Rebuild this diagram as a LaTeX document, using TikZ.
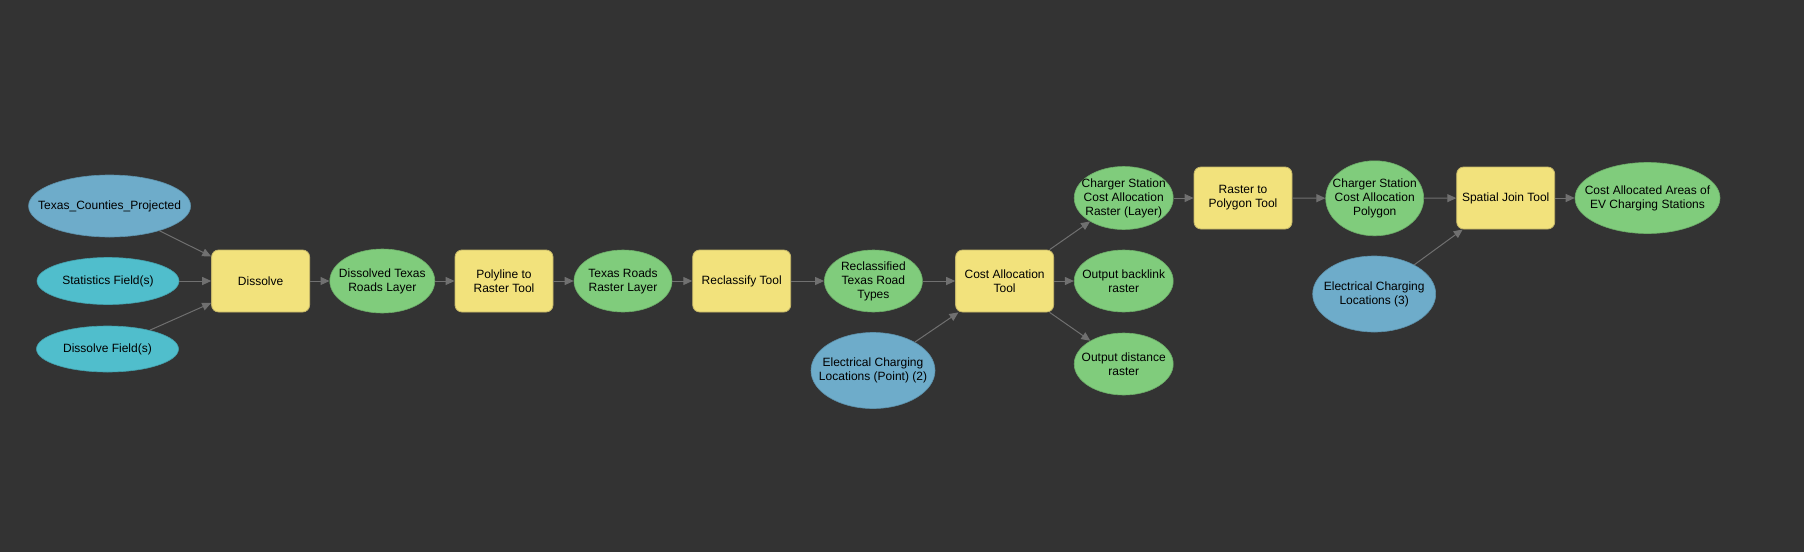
\documentclass[tikz,border=0pt]{standalone}
\usepackage{fontspec}
\setmainfont{Liberation Sans}
\usetikzlibrary{shapes.geometric,arrows.meta}
\definecolor{bgdark}{RGB}{51,51,51}
\definecolor{tooly}{RGB}{242,226,124}
\definecolor{tooledge}{RGB}{196,182,104}
\definecolor{outg}{RGB}{128,204,124}
\definecolor{inb}{RGB}{110,172,202}
\definecolor{parc}{RGB}{80,190,204}
\definecolor{flowgray}{RGB}{112,112,112}
\tikzset{
  tool/.style={rectangle, rounded corners=7pt, draw=tooledge, line width=0.8pt, fill=tooly,
    minimum width=98pt, minimum height=62pt, align=center, inner sep=0pt},
  data/.style={ellipse, draw=#1!85!black, line width=0.6pt, fill=#1, inner sep=0pt},
  txt/.style={align=center, inner sep=0pt},
  flow/.style={draw=flowgray, line width=1pt, -{Triangle[length=9pt,width=8pt]}}
}
\begin{document}
\begin{tikzpicture}[x=1pt,y=-1pt,font=\fontsize{12}{14}\selectfont]
  %%%%% START %%%%%
  \fill[bgdark] (0,0) rectangle (1804,552);

  \node[data=inb, minimum width=162pt, minimum height=62pt, label={[txt]center:Texas\_Counties\_Projected}] (tcp) at (109.6,206) {};
  \node[data=parc, minimum width=142pt, minimum height=47pt, label={[txt]center:Statistics Field(s)}] (statf) at (108,281) {};
  \node[data=parc, minimum width=142pt, minimum height=46pt, label={[txt]center:Dissolve Field(s)}] (dissf) at (107.5,349) {};

  \node[tool] (dissolve) at (260.6,281) {Dissolve};
  \node[data=outg, minimum width=105pt, minimum height=64pt, label={[txt]center:{Dissolved Texas\\Roads Layer}}] (dissroads) at (382.3,281) {};
  \node[tool] (polyline) at (504,281) {Polyline to\\Raster Tool};
  \node[data=outg, minimum width=98pt, minimum height=62pt, label={[txt]center:{Texas Roads\\Raster Layer}}] (rasterlayer) at (623,281) {};
  \node[tool] (reclass) at (741.7,281) {Reclassify Tool};
  \node[data=outg, minimum width=98pt, minimum height=62pt, label={[txt]center:{Reclassified\\Texas Road\\Types}}] (reclassified) at (873.4,281) {};
  \node[tool] (costalloc) at (1004.6,281) {Cost Allocation\\Tool};
  \node[data=inb, minimum width=124pt, minimum height=76pt, label={[txt]center:{Electrical Charging\\Locations (Point) (2)}}] (evpoint) at (873,370.5) {};

  \node[data=outg, minimum width=99pt, minimum height=63pt, label={[txt]center:{Charger Station\\Cost Allocation\\Raster (Layer)}}] (allocraster) at (1123.7,198) {};
  \node[data=outg, minimum width=99pt, minimum height=62pt, label={[txt]center:{Output backlink\\raster}}] (backlink) at (1123.7,281) {};
  \node[data=outg, minimum width=99pt, minimum height=62pt, label={[txt]center:{Output distance\\raster}}] (distance) at (1123.7,364) {};

  \node[tool] (topoly) at (1243,198) {Raster to\\Polygon Tool};
  \node[data=outg, minimum width=98pt, minimum height=75pt, label={[txt]center:{Charger Station\\Cost Allocation\\Polygon}}] (allocpoly) at (1374.7,198.3) {};
  \node[tool] (spjoin) at (1505.7,198) {Spatial Join Tool};
  \node[data=inb, minimum width=123pt, minimum height=76pt, label={[txt]center:{Electrical Charging\\Locations (3)}}] (evloc3) at (1374.2,294) {};
  \node[data=outg, minimum width=145pt, minimum height=71pt, label={[txt]center:{Cost Allocated Areas of\\EV Charging Stations}}] (areas) at (1647.5,198) {};

  \draw[flow] (tcp) -- (dissolve);
  \draw[flow] (statf) -- (dissolve);
  \draw[flow] (dissf) -- (dissolve);
  \draw[flow] (dissolve) -- (dissroads);
  \draw[flow] (dissroads) -- (polyline);
  \draw[flow] (polyline) -- (rasterlayer);
  \draw[flow] (rasterlayer) -- (reclass);
  \draw[flow] (reclass) -- (reclassified);
  \draw[flow] (reclassified) -- (costalloc);
  \draw[flow] (evpoint) -- (costalloc);
  \draw[flow] (costalloc) -- (allocraster);
  \draw[flow] (costalloc) -- (backlink);
  \draw[flow] (costalloc) -- (distance);
  \draw[flow] (allocraster) -- (topoly);
  \draw[flow] (topoly) -- (allocpoly);
  \draw[flow] (allocpoly) -- (spjoin);
  \draw[flow] (evloc3) -- (spjoin);
  \draw[flow] (spjoin) -- (areas);
  %%%%% END %%%%%
\end{tikzpicture}
\end{document}
